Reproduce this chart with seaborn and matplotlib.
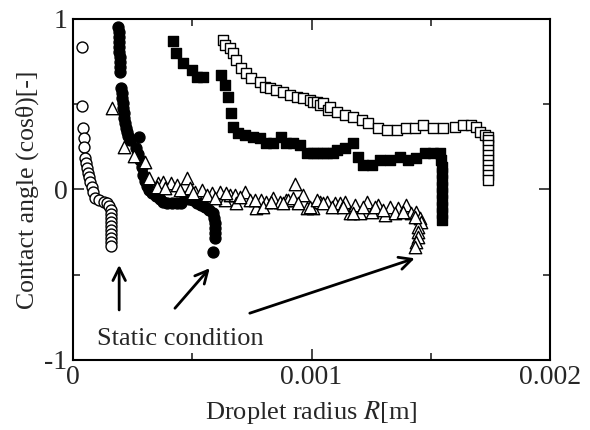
import numpy as np
import pandas as pd
import seaborn as sns
import matplotlib
matplotlib.use("Agg")
import matplotlib.pyplot as plt
from matplotlib.ticker import FixedLocator

# data: droplet radius [x 1e-3 m] and cos(theta) [-]
open_circle_r = [0.035, 0.038, 0.042, 0.046, 0.046, 0.049, 0.053, 0.057, 0.062, 0.066, 0.070, 0.078, 0.083,
                 0.091, 0.108, 0.129, 0.141, 0.150, 0.158, 0.160, 0.160, 0.160, 0.160, 0.160, 0.160, 0.160,
                 0.160, 0.160]
open_circle_cos = [0.838, 0.490, 0.359, 0.304, 0.251, 0.185, 0.155, 0.126, 0.097, 0.073, 0.044, 0.015, -0.015,
                   -0.050, -0.062, -0.073, -0.079, -0.097, -0.120, -0.144, -0.167, -0.191, -0.214, -0.238,
                   -0.261, -0.284, -0.308, -0.331]

filled_circle_r = [0.189, 0.192, 0.193, 0.194, 0.194, 0.194, 0.195, 0.196, 0.196, 0.196, 0.202, 0.204, 0.206,
                   0.208, 0.211, 0.213, 0.215, 0.217, 0.221, 0.225, 0.229, 0.238, 0.276, 0.263, 0.271, 0.280,
                   0.288, 0.294, 0.301, 0.308, 0.317, 0.330, 0.347, 0.364, 0.376, 0.393, 0.414, 0.435, 0.452,
                   0.468, 0.485, 0.502, 0.519, 0.536, 0.552, 0.569, 0.586, 0.592, 0.594, 0.594, 0.594, 0.594,
                   0.585]
filled_circle_cos = [0.955, 0.924, 0.894, 0.865, 0.836, 0.806, 0.777, 0.748, 0.719, 0.689, 0.595, 0.566, 0.537,
                     0.507, 0.478, 0.449, 0.419, 0.390, 0.361, 0.337, 0.314, 0.290, 0.308, 0.243, 0.208, 0.173,
                     0.132, 0.085, 0.050, 0.021, -0.003, -0.021, -0.038, -0.056, -0.073, -0.079, -0.079,
                     -0.079, -0.079, -0.044, -0.056, -0.062, -0.079, -0.091, -0.103, -0.120, -0.138, -0.167,
                     -0.196, -0.226, -0.255, -0.284, -0.367]

triangle_r = [0.165, 0.214, 0.256, 0.301, 0.319, 0.357, 0.378, 0.409, 0.434, 0.476, 0.490, 0.510, 0.539,
              0.581, 0.615, 0.636, 0.657, 0.678, 0.685, 0.720, 0.741, 0.769, 0.790, 0.811, 0.839, 0.867,
              0.895, 0.902, 0.923, 0.930, 0.965, 0.979, 1.007, 1.035, 1.063, 1.098, 1.119, 1.140, 1.161,
              1.182, 1.203, 1.231, 1.252, 1.279, 1.307, 1.328, 1.363, 1.398, 1.419, 1.440, 1.454, 1.461,
              1.447, 1.447, 1.447, 1.440, 1.433,
              0.350, 0.385, 0.448, 0.503, 0.560, 0.594, 0.643, 0.699, 0.762, 0.797, 0.832, 0.881, 0.944,
              0.993, 1.021, 1.049, 1.084, 1.133, 1.174, 1.216, 1.266, 1.300, 1.349, 1.384, 1.433]
triangle_cos = [0.476, 0.251, 0.196, 0.163, 0.066, 0.036, 0.046, 0.036, 0.026, 0.066, 0.007, -0.013, -0.003,
                -0.022, -0.013, -0.062, -0.032, -0.032, -0.081, -0.013, -0.062, -0.110, -0.062, -0.072,
                -0.052, -0.072, -0.062, -0.062, -0.052, 0.032, -0.032, -0.110, -0.110, -0.072, -0.072,
                -0.081, -0.081, -0.072, -0.140, -0.091, -0.140, -0.072, -0.130, -0.091, -0.150, -0.101,
                -0.110, -0.091, -0.140, -0.130, -0.169, -0.189, -0.218, -0.248, -0.277, -0.306, -0.335,
                0.016, 0.007, -0.003, -0.022, -0.032, -0.052, -0.022, -0.042, -0.062, -0.101, -0.072, -0.081,
                -0.081, -0.101, -0.062, -0.081, -0.101, -0.101, -0.140, -0.101, -0.101, -0.120, -0.140,
                -0.130, -0.160]

filled_square_r = [0.419, 0.431, 0.461, 0.497, 0.518, 0.545, 0.622, 0.636, 0.650, 0.664, 0.671, 0.692, 0.720,
                   0.755, 0.783, 0.811, 0.839, 0.874, 0.895, 0.923, 0.951, 0.979, 1.007, 1.021, 1.049, 1.063,
                   1.091, 1.105, 1.140, 1.174, 1.195, 1.216, 1.252, 1.287, 1.328, 1.370, 1.405, 1.440, 1.475,
                   1.510, 1.538, 1.545, 1.549, 1.549, 1.549, 1.549, 1.549, 1.549, 1.549, 1.549, 1.549]
filled_square_cos = [0.873, 0.799, 0.740, 0.701, 0.662, 0.662, 0.672, 0.613, 0.544, 0.447, 0.368, 0.330,
                     0.320, 0.310, 0.300, 0.271, 0.271, 0.310, 0.271, 0.271, 0.261, 0.212, 0.212, 0.212,
                     0.212, 0.212, 0.212, 0.232, 0.242, 0.271, 0.192, 0.144, 0.144, 0.173, 0.173, 0.192,
                     0.173, 0.183, 0.212, 0.212, 0.212, 0.173, 0.134, 0.095, 0.056, 0.016, -0.022, -0.062,
                     -0.101, -0.140, -0.179]

open_square_r = [0.627, 0.636, 0.657, 0.671, 0.685, 0.706, 0.727, 0.748, 0.783, 0.804, 0.825, 0.853, 0.881,
                 0.909, 0.937, 0.965, 0.993, 1.007, 1.021, 1.035, 1.049, 1.070, 1.077, 1.105, 1.140, 1.174,
                 1.210, 1.237, 1.279, 1.315, 1.357, 1.398, 1.433, 1.468, 1.510, 1.552, 1.601, 1.636, 1.671,
                 1.692, 1.706, 1.727, 1.741, 1.741, 1.741, 1.741, 1.741, 1.741, 1.741, 1.741, 1.741, 1.741]
open_square_cos = [0.877, 0.848, 0.828, 0.799, 0.760, 0.711, 0.681, 0.652, 0.632, 0.603, 0.594, 0.584, 0.574,
                   0.554, 0.544, 0.535, 0.525, 0.515, 0.515, 0.496, 0.506, 0.466, 0.486, 0.456, 0.437, 0.427,
                   0.408, 0.388, 0.359, 0.349, 0.349, 0.359, 0.359, 0.378, 0.359, 0.359, 0.368, 0.378, 0.378,
                   0.368, 0.339, 0.320, 0.310, 0.290, 0.261, 0.232, 0.202, 0.173, 0.144, 0.114, 0.085, 0.056]

# arrows pointing at the static end points: (tail r, tail cos, head r, head cos)
arrow_tail_r = [0.193, 0.427, 0.741]
arrow_tail_cos = [-0.707, -0.697, -0.726]
arrow_head_r = [0.193, 0.573, 1.433]
arrow_head_cos = [-0.443, -0.462, -0.404]

x_ticks = [0, 0.001, 0.002]
x_tick_labels = ["0", "0.001", "0.002"]
y_ticks = [-1, 0, 1]
y_tick_labels = ["-1", "0", "1"]

sns.set_style("ticks")
plt.rcParams['font.family'] = ['Liberation Serif', 'DejaVu Serif']
plt.rcParams['mathtext.fontset'] = 'stix'
plt.rcParams['axes.unicode_minus'] = False

fig = plt.figure(figsize=(5.9, 4.3), dpi=100)
ax = fig.add_axes([0.124, 0.163, 0.808, 0.793])

# one frame per series, radius converted to metres
def series(r, c):
    return pd.DataFrame({"r": np.array(r) * 1e-3, "cos": c})

ms = 62
sns.scatterplot(data=series(open_circle_r, open_circle_cos), x="r", y="cos", marker="o", s=ms,
                facecolor="white", edgecolor="black", linewidth=1.0, ax=ax, zorder=3)
sns.scatterplot(data=series(filled_circle_r, filled_circle_cos), x="r", y="cos", marker="o", s=ms,
                color="black", edgecolor="black", linewidth=1.0, ax=ax, zorder=3)
sns.scatterplot(data=series(triangle_r, triangle_cos), x="r", y="cos", marker="^", s=80,
                facecolor="white", edgecolor="black", linewidth=1.0, ax=ax, zorder=3)
sns.scatterplot(data=series(filled_square_r, filled_square_cos), x="r", y="cos", marker="s", s=ms,
                color="black", edgecolor="black", linewidth=1.0, ax=ax, zorder=3)
sns.scatterplot(data=series(open_square_r, open_square_cos), x="r", y="cos", marker="s", s=ms,
                facecolor="white", edgecolor="black", linewidth=1.0, ax=ax, zorder=3)

for tr, tc, hr, hc in zip(arrow_tail_r, arrow_tail_cos, arrow_head_r, arrow_head_cos):
    ax.annotate("", xy=(hr * 1e-3, hc), xytext=(tr * 1e-3, tc),
                arrowprops=dict(arrowstyle="->,head_length=0.9,head_width=0.45", color="black", lw=2.0,
                                shrinkA=0, shrinkB=0))
ax.text(0.098e-3, -0.912, "Static condition", fontsize=19, va="baseline", ha="left")

ax.set_xlim(0, 0.002)
ax.set_ylim(-1, 1)
ax.set_xticks(x_ticks)
ax.set_xticklabels(x_tick_labels)
ax.set_yticks(y_ticks)
ax.set_yticklabels(y_tick_labels)
ax.xaxis.set_minor_locator(FixedLocator([0.0005, 0.0015]))
ax.yaxis.set_minor_locator(FixedLocator([-0.5, 0.5]))
ax.tick_params(which="both", direction="in", top=True, right=True, width=1.2, labelsize=20, pad=4)
ax.tick_params(which="major", length=8)
ax.tick_params(which="minor", length=5)
for sp in ax.spines.values():
    sp.set_linewidth(1.5)
    sp.set_color("black")

ax.set_xlabel("Droplet radius $R$[m]", fontsize=19, labelpad=6)
ax.set_ylabel("Contact angle (cosθ)[-]", fontsize=18.5, labelpad=4)

fig.savefig("out.png", dpi=100)
